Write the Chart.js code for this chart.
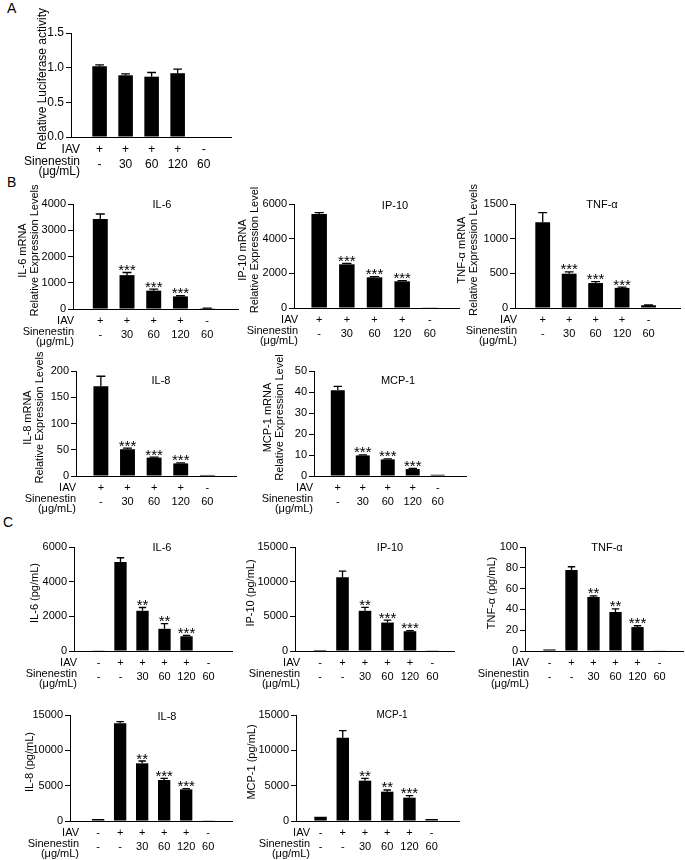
<!DOCTYPE html>
<html>
<head>
<meta charset="utf-8">
<script src="https://cdn.jsdelivr.net/npm/chart.js@4.4.1/dist/chart.umd.min.js"></script>
<style>
  html, body { margin: 0; padding: 0; background: #fff; }
  body { width: 685px; height: 860px; position: relative; overflow: hidden;
         font-family: "Liberation Sans", Arial, Helvetica, sans-serif; }
  canvas { position: absolute; }
  .panel { position: absolute; font-size: 14px; line-height: 14px; color: #000; }
</style>
</head>
<body>
<div class="panel" style="left:7px;top:1px">A</div>
<div class="panel" style="left:7px;top:175px">B</div>
<div class="panel" style="left:3px;top:515px">C</div>
<script>
// ---- conditions (x categories) ----
const iavB = ["+", "+", "+", "+", "-"]
const doseB = ["-", "30", "60", "120", "60"]
const iavC = ["-", "+", "+", "+", "+", "-"]
const doseC = ["-", "-", "30", "60", "120", "60"]

// ---- A: luciferase ----
const luciferase = [1.02, 0.89, 0.87, 0.92, null]
const luciferaseErr = [0.02, 0.02, 0.06, 0.06, 0]
const luciferaseSig = ["", "", "", "", ""]

// ---- B: mRNA ----
const il6Mrna = [3430, 1290, 700, 480, 30]
const il6MrnaErr = [190, 100, 55, 25, 5]
const ip10Mrna = [5430, 2520, 1770, 1540, 20]
const ip10MrnaErr = [70, 50, 40, 40, 0]
const tnfMrna = [1235, 495, 360, 290, 40]
const tnfMrnaErr = [140, 25, 20, 10, 3]
const il8Mrna = [171, 51, 35, 24, 2]
const il8MrnaErr = [19, 2, 1, 1, 0]
const mcp1Mrna = [40.8, 9.8, 7.9, 3.3, 0.6]
const mcp1MrnaErr = [1.9, 0.3, 0.3, 0.3, 0]
const sigB = ["", "***", "***", "***", ""]

// ---- C: protein (pg/mL) ----
const il6Prot = [40, 5130, 2320, 1280, 850, 30]
const il6ProtErr = [0, 250, 190, 300, 50, 0]
const il6ProtSig = ["", "", "**", "**", "***", ""]
const ip10Prot = [150, 10630, 5800, 4100, 2850, 100]
const ip10ProtErr = [0, 900, 480, 340, 100, 0]
const ip10ProtSig = ["", "", "**", "***", "***", ""]
const tnfProt = [1.5, 78, 52, 37.5, 23, 0.6]
const tnfProtErr = [0, 3, 1, 3, 1.3, 0]
const tnfProtSig = ["", "", "**", "**", "***", ""]
const il8Prot = [280, 13820, 8160, 5800, 4480, 95]
const il8ProtErr = [0, 240, 330, 240, 100, 0]
const il8ProtSig = ["", "", "**", "***", "***", ""]
const mcp1Prot = [600, 11790, 5710, 4150, 3300, 280]
const mcp1ProtErr = [0, 990, 330, 240, 300, 0]
const mcp1ProtSig = ["", "", "**", "**", "***", ""]

const FONT = "'Liberation Sans', Arial, Helvetica, sans-serif"
Chart.defaults.font.family = FONT
Chart.defaults.color = "#000"

const PAD_TOP = 40

function makeChart(spec) {
  const left = spec.axisX - 70
  const top = spec.topY - PAD_TOP
  const width = spec.rightX - left
  const height = spec.axisY + 42 - top

  const canvas = document.createElement("canvas")
  canvas.width = width
  canvas.height = height
  canvas.style.left = left + "px"
  canvas.style.top = top + "px"
  document.body.appendChild(canvas)

  const rowSize = spec.rowSize || 11
  const rowOff = spec.rowOff || [12, 23, 26, 33]

  // error bars, stars, titles and the condition table
  const extras = {
    id: "extras",
    afterDatasetsDraw(chart) {
      const ctx = chart.ctx
      const y = chart.scales.y
      const meta = chart.getDatasetMeta(0)
      ctx.save()
      ctx.strokeStyle = "#000"
      ctx.fillStyle = "#000"
      ctx.lineWidth = 1.3
      spec.values.forEach((v, i) => {
        if (v === null) return
        const bar = meta.data[i]
        const err = spec.errors[i] || 0
        const yTop = y.getPixelForValue(v + err)
        if (err > 0) {
          const cap = bar.width * 0.3
          ctx.beginPath()
          ctx.moveTo(bar.x, bar.y)
          ctx.lineTo(bar.x, yTop)
          ctx.moveTo(bar.x - cap, yTop)
          ctx.lineTo(bar.x + cap, yTop)
          ctx.stroke()
        }
        if (spec.stars[i]) {
          ctx.font = "15px " + FONT
          ctx.textAlign = "center"
          ctx.textBaseline = "alphabetic"
          const m = ctx.measureText(spec.stars[i])
          // put the bottom of the asterisks just above the error cap
          ctx.fillText(spec.stars[i], bar.x, yTop - 1.5 - m.actualBoundingBoxDescent)
        }
      })
      ctx.restore()
    },
    afterDraw(chart) {
      const ctx = chart.ctx
      const area = chart.chartArea
      const x = chart.scales.x
      ctx.save()
      ctx.fillStyle = "#000"

      // chart title
      if (spec.title) {
        ctx.font = (spec.titleSize || 11) + "px " + FONT
        ctx.textAlign = "center"
        ctx.textBaseline = "middle"
        ctx.fillText(spec.title, spec.titleX - left, spec.titleY - top)
      }

      // y axis title (rotated, one or two lines)
      const ySize = spec.yTitleSize || 11
      ctx.font = ySize + "px " + FONT
      ctx.textAlign = "center"
      ctx.textBaseline = "middle"
      spec.yTitle.forEach((line, k) => {
        ctx.save()
        ctx.translate(spec.yTitleX - left + k * ySize * 1.08, (area.top + area.bottom) / 2 - 6)
        ctx.rotate(-Math.PI / 2)
        ctx.fillText(line, 0, 0)
        ctx.restore()
      })

      // condition table under the x axis
      const b = area.bottom
      ctx.font = rowSize + "px " + FONT
      ctx.textAlign = "right"
      const rx = spec.rowRight - left
      ctx.fillText("IAV", rx, b + rowOff[0])
      ctx.fillText("Sinenestin", rx, b + rowOff[1])
      ctx.fillText("(\u03bcg/mL)", rx, b + rowOff[3])
      ctx.textAlign = "center"
      spec.iav.forEach((t, i) => ctx.fillText(t, x.getPixelForValue(i), b + rowOff[0]))
      spec.dose.forEach((t, i) => ctx.fillText(t, x.getPixelForValue(i), b + rowOff[2]))
      ctx.restore()
    }
  }

  return new Chart(canvas, {
    type: "bar",
    data: {
      datasets: [{
        data: spec.values.map((v, i) => ({ x: i, y: v })),
        backgroundColor: "#000",
        borderWidth: 0,
        categoryPercentage: 1,
        barPercentage: 0.56
      }]
    },
    options: {
      responsive: false,
      animation: false,
      events: [],
      layout: { padding: { top: PAD_TOP, left: 0, right: 0, bottom: 0 } },
      plugins: { legend: { display: false }, tooltip: { enabled: false } },
      scales: {
        x: {
          type: "linear",
          min: spec.xMin,
          max: spec.xMax,
          ticks: { display: false, stepSize: 1, includeBounds: false },
          grid: { display: false },
          border: { display: true, color: "#000", width: 1 },
          afterFit: (s) => { s.height = 42 }
        },
        y: {
          min: 0,
          max: spec.yMax,
          ticks: {
            stepSize: spec.yStep,
            color: "#000",
            padding: 2,
            font: { size: spec.tickSize || 11 },
            callback: spec.tickFormat || ((v) => v)
          },
          grid: { drawOnChartArea: false, drawTicks: true, tickLength: 5, color: "#000", lineWidth: 1 },
          border: { display: true, color: "#000", width: 1 },
          afterFit: (s) => { s.width = 70 }
        }
      }
    },
    plugins: [extras]
  })
}

// Panel A
makeChart({
  values: luciferase, errors: luciferaseErr, stars: luciferaseSig, iav: iavB, dose: doseB,
  axisX: 71, topY: 33, axisY: 137, rightX: 232, xMin: -0.48, xMax: 4.47,
  yMax: 1.5, yStep: 0.5, tickFormat: (v) => v.toFixed(1), tickSize: 12,
  yTitle: ["Relative Luciferase activity"], yTitleX: 43, yTitleSize: 12,
  rowRight: 80, rowSize: 12, rowOff: [13, 25, 28, 35]
})

// Panel B
makeChart({
  values: il6Mrna, errors: il6MrnaErr, stars: sigB, iav: iavB, dose: doseB,
  axisX: 73, topY: 204, axisY: 309, rightX: 239, xMin: -0.40, xMax: 4.57,
  yMax: 4000, yStep: 1000,
  yTitle: ["IL-6 mRNA", "Relative Expression Levels"], yTitleX: 23,
  title: "IL-6", titleX: 162, titleY: 205, rowRight: 74
})
makeChart({
  values: ip10Mrna, errors: ip10MrnaErr, stars: sigB, iav: iavB, dose: doseB,
  axisX: 294, topY: 204, axisY: 308, rightX: 460, xMin: -0.41, xMax: 4.59,
  yMax: 6000, yStep: 2000,
  yTitle: ["IP-10 mRNA", "Relative Expression Level"], yTitleX: 243,
  title: "IP-10", titleX: 395, titleY: 206, rowRight: 298
})
makeChart({
  values: tnfMrna, errors: tnfMrnaErr, stars: sigB, iav: iavB, dose: doseB,
  axisX: 515, topY: 204, axisY: 308, rightX: 681, xMin: -0.42, xMax: 4.6,
  yMax: 1500, yStep: 500,
  yTitle: ["TNF-\u03b1 mRNA", "Relative Expression Levels"], yTitleX: 462,
  title: "TNF-\u03b1", titleX: 602, titleY: 205, rowRight: 517
})
makeChart({
  values: il8Mrna, errors: il8MrnaErr, stars: sigB, iav: iavB, dose: doseB,
  axisX: 76, topY: 371, axisY: 476, rightX: 237, xMin: -0.33, xMax: 4.51,
  yMax: 200, yStep: 50,
  yTitle: ["IL-8 mRNA", "Relative Expression Levels"], yTitleX: 28,
  title: "IL-8", titleX: 161, titleY: 381, rowRight: 76
})
makeChart({
  values: mcp1Mrna, errors: mcp1MrnaErr, stars: sigB, iav: iavB, dose: doseB,
  axisX: 314, topY: 371, axisY: 476, rightX: 467, xMin: -0.34, xMax: 4.56,
  yMax: 50, yStep: 10,
  yTitle: ["MCP-1 mRNA", "Relative Expression Level"], yTitleX: 268,
  title: "MCP-1", titleX: 398, titleY: 381, rowRight: 313
})

// Panel C
makeChart({
  values: il6Prot, errors: il6ProtErr, stars: il6ProtSig, iav: iavC, dose: doseC,
  axisX: 74, topY: 547, axisY: 651, rightX: 233, xMin: -0.51, xMax: 5.51,
  yMax: 6000, yStep: 2000,
  yTitle: ["IL-6 (pg/mL)"], yTitleX: 35,
  title: "IL-6", titleX: 162, titleY: 548, rowRight: 77
})
makeChart({
  values: ip10Prot, errors: ip10ProtErr, stars: ip10ProtSig, iav: iavC, dose: doseC,
  axisX: 295, topY: 547, axisY: 651, rightX: 455, xMin: -0.52, xMax: 5.41,
  yMax: 15000, yStep: 5000,
  yTitle: ["IP-10 (pg/mL)"], yTitleX: 251,
  title: "IP-10", titleX: 390, titleY: 548, rowRight: 300
})
makeChart({
  values: tnfProt, errors: tnfProtErr, stars: tnfProtSig, iav: iavC, dose: doseC,
  axisX: 525, topY: 547, axisY: 651, rightX: 684, xMin: -0.51, xMax: 5.51,
  yMax: 100, yStep: 20,
  yTitle: ["TNF-\u03b1 (pg/mL)"], yTitleX: 492,
  title: "TNF-\u03b1", titleX: 607, titleY: 548, rowRight: 529
})
makeChart({
  values: il8Prot, errors: il8ProtErr, stars: il8ProtSig, iav: iavC, dose: doseC,
  axisX: 70, topY: 715, axisY: 821, rightX: 233, xMin: -0.66, xMax: 5.51,
  yMax: 15000, yStep: 5000,
  yTitle: ["IL-8 (pg/mL)"], yTitleX: 30,
  title: "IL-8", titleX: 167, titleY: 717, rowRight: 79
})
makeChart({
  values: mcp1Prot, errors: mcp1ProtErr, stars: mcp1ProtSig, iav: iavC, dose: doseC,
  axisX: 296, topY: 715, axisY: 821, rightX: 460, xMin: -0.49, xMax: 5.66,
  yMax: 15000, yStep: 5000,
  yTitle: ["MCP-1 (pg/mL)"], yTitleX: 252,
  title: "MCP-1", titleX: 392, titleY: 715, titleSize: 10, rowRight: 310
})
</script>
</body>
</html>
